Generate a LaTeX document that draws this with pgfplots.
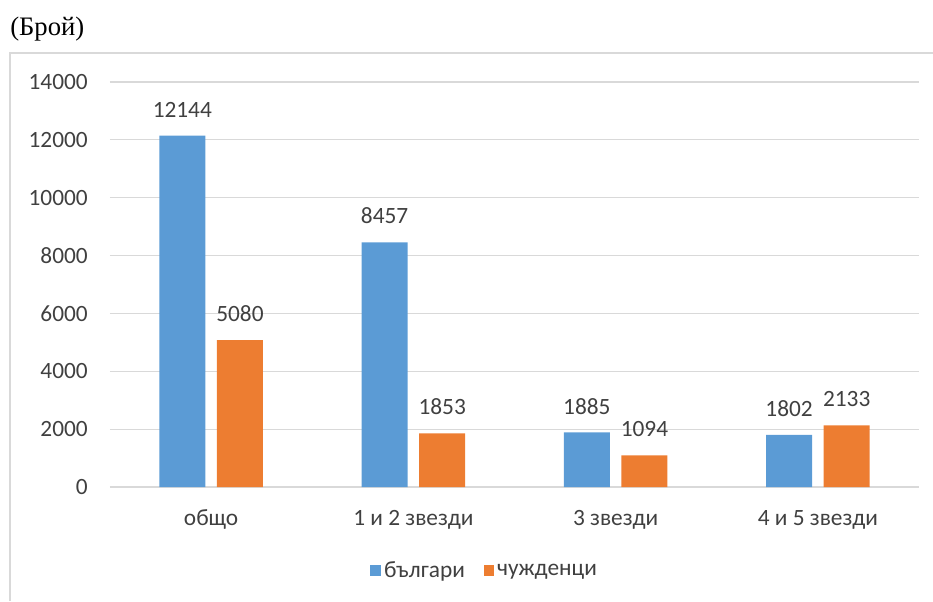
\documentclass[border=0pt]{standalone}
\usepackage{pgfplots}
\pgfplotsset{compat=1.18}
\usepackage{fontspec}
\setmainfont{Carlito}
\newfontfamily\seriffont{Liberation Serif}
\definecolor{cblue}{HTML}{5B9BD5}
\definecolor{corange}{HTML}{ED7D31}
\definecolor{cgrid}{HTML}{D9D9D9}
\definecolor{ctext}{HTML}{404040}
\begin{document}
\begin{tikzpicture}
\useasboundingbox (0pt,0pt) rectangle (699.75pt,450.75pt);
\draw[cgrid, line width=1.2pt] (7.5pt,0pt) -- (7.5pt,411pt) -- (699.75pt,411pt);
\node[anchor=base west, inner sep=0pt, font=\seriffont\fontsize{20}{24}\selectfont] at (7.5pt,423.75pt) {(Брой)};
\begin{axis}[
  at={(82.5pt,85.5pt)}, anchor=south west,
  width=606.75pt, height=303.75pt, scale only axis,
  ymin=0, ymax=14000, ytick={0,2000,...,14000},
  scaled y ticks=false,
  xmin=-0.5, xmax=3.5, xtick={0,1,2,3},
  xticklabels={общо,1 и 2 звезди,3 звезди,4 и 5 звезди},
  axis line style={draw=none},
  ymajorgrids, grid style={cgrid, line width=0.9pt},
  major tick length=0pt,
  tick style={draw=none},
  /pgf/number format/assume math mode=true,
  /pgf/number format/1000 sep={},
  font=\fontsize{17.5}{21}\selectfont,
  ticklabel style={text=ctext},
  yticklabel style={anchor=east, inner sep=0pt, xshift=-16.5pt},
  xticklabel style={anchor=base, inner sep=0pt, yshift=-29pt},
  ybar=8.7pt, bar width=34.5pt,
  nodes near coords,
  every node near coord/.append style={text=ctext, anchor=south, inner sep=0pt, yshift=13.5pt, /pgf/number format/assume math mode=true,/pgf/number format/1000 sep={}},
  legend style={at={(0.4635,-0.207)}, anchor=center, draw=none, fill=none, legend columns=2, text=ctext,
    /tikz/every even column/.append style={column sep=12pt}},
  legend cell align=left,
  legend image code/.code={\fill[#1] (0pt,-4.1pt) rectangle (8.2pt,4.1pt);},
]
\addplot[fill=cblue, draw=none] coordinates {(0,12144) (1,8457) (2,1885) (3,1802)};
\addplot[fill=corange, draw=none] coordinates {(0,5080) (1,1853) (2,1094) (3,2133)};
\legend{българи, чужденци}
\end{axis}
\end{tikzpicture}
\end{document}
